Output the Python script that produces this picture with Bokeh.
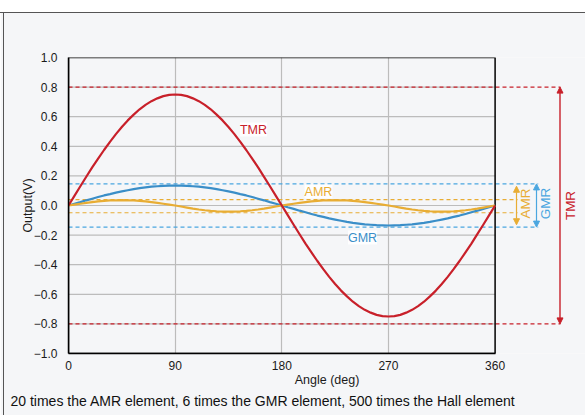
from bokeh.plotting import figure
from bokeh.models import (Range1d, FixedTicker, Label, Arrow, NormalHead, Title,
                          InlineStyleSheet)
from bokeh.embed import file_html
from bokeh.resources import INLINE

# ---------------- data ----------------
angle_deg = [0, 5, 10, 15, 20, 25, 30, 35, 40, 45, 50, 55, 60, 65, 70, 75, 80, 85, 90,
             95, 100, 105, 110, 115, 120, 125, 130, 135, 140, 145, 150, 155, 160, 165, 170, 175, 180,
             185, 190, 195, 200, 205, 210, 215, 220, 225, 230, 235, 240, 245, 250, 255, 260, 265, 270,
             275, 280, 285, 290, 295, 300, 305, 310, 315, 320, 325, 330, 335, 340, 345, 350, 355, 360]
tmr_v = [0.000, 0.065, 0.130, 0.194, 0.257, 0.317, 0.375, 0.430, 0.482, 0.530, 0.575, 0.614,
         0.650, 0.680, 0.705, 0.724, 0.739, 0.747, 0.750,
         0.747, 0.739, 0.724, 0.705, 0.680, 0.650, 0.614, 0.575, 0.530, 0.482, 0.430, 0.375,
         0.317, 0.257, 0.194, 0.130, 0.065, 0.000,
         -0.065, -0.130, -0.194, -0.257, -0.317, -0.375, -0.430, -0.482, -0.530, -0.575, -0.614,
         -0.650, -0.680, -0.705, -0.724, -0.739, -0.747, -0.750,
         -0.747, -0.739, -0.724, -0.705, -0.680, -0.650, -0.614, -0.575, -0.530, -0.482, -0.430,
         -0.375, -0.317, -0.257, -0.194, -0.130, -0.065, 0.000]
gmr_v = [0.000, 0.012, 0.023, 0.035, 0.046, 0.057, 0.068, 0.077, 0.087, 0.095, 0.103, 0.111,
         0.117, 0.122, 0.127, 0.130, 0.133, 0.134, 0.135,
         0.134, 0.133, 0.130, 0.127, 0.122, 0.117, 0.111, 0.103, 0.095, 0.087, 0.077, 0.068,
         0.057, 0.046, 0.035, 0.023, 0.012, 0.000,
         -0.012, -0.023, -0.035, -0.046, -0.057, -0.068, -0.077, -0.087, -0.095, -0.103, -0.111,
         -0.117, -0.122, -0.127, -0.130, -0.133, -0.134, -0.135,
         -0.134, -0.133, -0.130, -0.127, -0.122, -0.117, -0.111, -0.103, -0.095, -0.087, -0.077,
         -0.068, -0.057, -0.046, -0.035, -0.023, -0.012, 0.000]
amr_v = [0.000, 0.006, 0.012, 0.018, 0.023, 0.028, 0.031, 0.034, 0.035, 0.036, 0.035, 0.034,
         0.031, 0.028, 0.023, 0.018, 0.012, 0.006, 0.000,
         -0.007, -0.014, -0.021, -0.027, -0.032, -0.036, -0.039, -0.041, -0.042, -0.041, -0.039,
         -0.036, -0.032, -0.027, -0.021, -0.014, -0.007, 0.000,
         0.006, 0.012, 0.018, 0.023, 0.028, 0.031, 0.034, 0.035, 0.036, 0.035, 0.034,
         0.031, 0.028, 0.023, 0.018, 0.012, 0.006, 0.000,
         -0.007, -0.014, -0.021, -0.027, -0.032, -0.036, -0.039, -0.041, -0.042, -0.041, -0.039,
         -0.036, -0.032, -0.027, -0.021, -0.014, -0.007, 0.000]

x_ticks = [0, 90, 180, 270, 360]
y_ticks = [-1.0, -0.8, -0.6, -0.4, -0.2, 0.0, 0.2, 0.4, 0.6, 0.8, 1.0]
y_tick_labels = ["\u22121.0", "\u22120.8", "\u22120.6", "\u22120.4", "\u22120.2", "0.0",
                 "0.2", "0.4", "0.6", "0.8", "1.0"]

tmr_band = [0.8, -0.8]
gmr_band = [0.146, -0.146]
amr_band = [0.040, -0.049]
amr_arrow_span = [0.13, -0.13]

note_text = "20 times the AMR element, 6 times the GMR element, 500 times the Hall element"

# ---------------- styles / layout ----------------
RED = "#c8202a"
BLUE = "#3a8ec8"
BLUE_D = "#4aa6e0"
ORANGE = "#e8ad34"
GRID = "#bcbcbc"
BG = "#f5f6f8"
FONT = "Liberation Sans"

W, H = 585, 415
FL, FT, FB = 68, 57, 62
PXX = 1.185                       # pixels per degree
X_END = (W - FL) / PXX
PXY = (H - FT - FB) / (y_ticks[-1] - y_ticks[0])


def dx(px):
    return (px - FL) / PXX


def dy(py):
    return y_ticks[-1] - (py - FT) / PXY


css = """
:host { position: relative; }
:host::after { content: ""; position: absolute; left: 0; top: 0; width: 100%;
  height: 11.5px; background: #ffffff; border-bottom: 1.6px solid #555555;
  z-index: 5; pointer-events: none; }
:host::before { content: ""; position: absolute; left: 2.6px; top: 12px; width: 1.6px;
  height: 100%; background: #555555; z-index: 5; pointer-events: none; }
"""

p = figure(width=W, height=H, output_backend="svg", toolbar_location=None,
           x_range=Range1d(0, X_END), y_range=Range1d(y_ticks[0], y_ticks[-1]),
           min_border_left=FL, min_border_right=0, min_border_top=FT,
           min_border_bottom=FB)
p.stylesheets = [InlineStyleSheet(css=css)]
p.background_fill_color = BG
p.border_fill_color = BG
p.outline_line_color = None

for ax in (p.xaxis[0], p.yaxis[0]):
    ax.axis_line_color = "black"
    ax.axis_line_width = 1.5
    ax.major_tick_line_color = None
    ax.minor_tick_line_color = None
    ax.major_label_text_font = FONT
    ax.major_label_text_font_size = "12px"
    ax.major_label_text_color = "#1a1a1a"
    ax.axis_label_text_font = FONT
    ax.axis_label_text_font_size = "12.5px"
    ax.axis_label_text_font_style = "normal"
    ax.axis_label_text_color = "#1a1a1a"

p.xaxis.ticker = FixedTicker(ticks=x_ticks)
p.xaxis.bounds = (x_ticks[0], x_ticks[-1])
p.xaxis.axis_label = "Angle (deg)"
p.xaxis.major_label_standoff = 1
p.xaxis.axis_label_standoff = 0

p.yaxis.ticker = FixedTicker(ticks=y_ticks)
p.yaxis.major_label_overrides = {t: s for t, s in zip(y_ticks, y_tick_labels)}
p.yaxis.axis_label = "Output(V)"
p.yaxis.major_label_standoff = 5
p.yaxis.axis_label_standoff = -4

p.xgrid.ticker = FixedTicker(ticks=x_ticks[1:-1])
p.xgrid.grid_line_color = GRID
p.xgrid.grid_line_width = 1.2
p.ygrid.grid_line_color = None
inner_y = y_ticks[1:-1]
p.segment(x0=[x_ticks[0]] * len(inner_y), x1=[x_ticks[-1]] * len(inner_y),
          y0=inner_y, y1=inner_y, line_color=GRID, line_width=1.2)

# dashed range lines
for band, col, end_px in ((tmr_band, RED, 560), (gmr_band, BLUE_D, 537.7),
                          (amr_band, ORANGE, 517)):
    p.segment(x0=[x_ticks[0]] * 2, x1=[dx(end_px)] * 2, y0=band, y1=band,
              line_color=col, line_width=1.1, line_dash="4 3")

# plot frame
p.quad(left=[x_ticks[0]], right=[x_ticks[-1]], bottom=[y_ticks[0]], top=[y_ticks[-1]],
       fill_color=None, line_color="black", line_width=1.5)

# curves
p.line(angle_deg, gmr_v, line_color=BLUE, line_width=2.2, line_join="round")
p.line(angle_deg, amr_v, line_color=ORANGE, line_width=2.2, line_join="round")
p.line(angle_deg, tmr_v, line_color=RED, line_width=2.2, line_join="round")

# in-plot labels
for txt, px, py, col in (("TMR", 253, 129, RED), ("AMR", 318, 191, ORANGE),
                         ("GMR", 362, 237, BLUE)):
    p.add_layout(Label(x=dx(px), y=dy(py), text=txt, text_color=col, text_font=FONT,
                       text_font_size="12.5px", text_align="center",
                       text_baseline="middle", background_fill_color="white",
                       background_fill_alpha=0.9))


def dim_arrow(px, y0, y1, col, w):
    p.add_layout(Arrow(x_start=dx(px), y_start=y0, x_end=dx(px), y_end=y1,
                       line_color=col, line_width=w,
                       start=NormalHead(size=6, fill_color=col, line_color=col),
                       end=NormalHead(size=6, fill_color=col, line_color=col)))


dim_arrow(559.5, tmr_band[0], tmr_band[1], RED, 1.4)
dim_arrow(536, gmr_band[0], gmr_band[1], BLUE_D, 1.2)
dim_arrow(516, amr_arrow_span[0], amr_arrow_span[1], ORANGE, 1.2)

for txt, px, py, col in (("TMR", 570, 205, RED), ("GMR", 544.5, 203, BLUE_D),
                         ("AMR", 525, 203, ORANGE)):
    p.add_layout(Label(x=dx(px), y=dy(py), text=txt, text_color=col, text_font=FONT,
                       text_font_size="13.5px", text_align="center",
                       text_baseline="middle", angle=90, angle_units="deg"))

# footnote below the axis
p.add_layout(Title(text=note_text, align="left", offset=10 - FL, text_font=FONT,
                   text_font_size="14px", text_font_style="normal",
                   text_color="#111111", vertical_align="top", standoff=6), "below")

open("out.html", "w").write(file_html(p, INLINE))
